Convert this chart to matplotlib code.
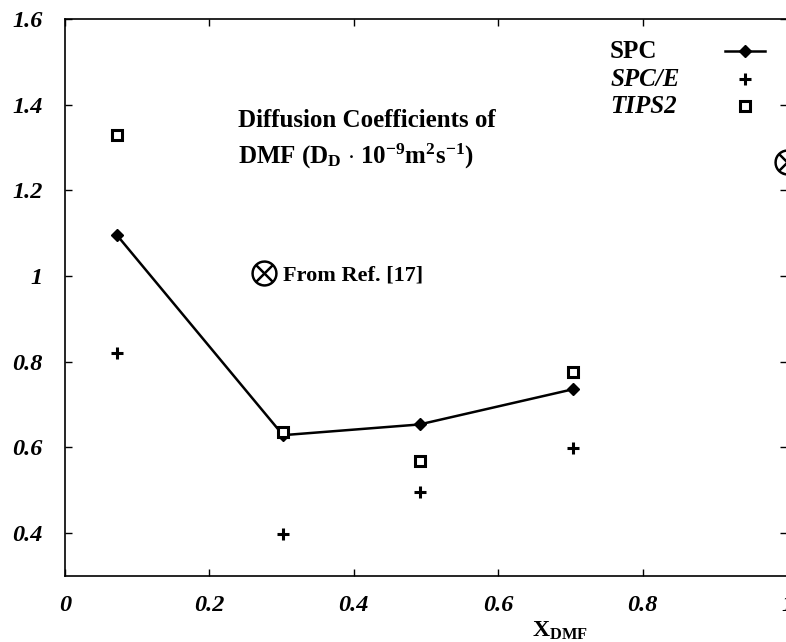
import matplotlib
matplotlib.use("Agg")
import matplotlib.pyplot as plt
from matplotlib.lines import Line2D

# mole fraction of DMF
x_dmf = [0.072, 0.302, 0.491, 0.703]
spc = [1.095, 0.628, 0.653, 0.735]
spce = [0.819, 0.396, 0.495, 0.599]
tips2 = [1.329, 0.636, 0.567, 0.776]
ref_x = [1.0]
ref_y = [1.265]

xticks = [0, 0.2, 0.4, 0.6, 0.8, 1]
yticks = [0.4, 0.6, 0.8, 1, 1.2, 1.4, 1.6]
series_names = ['SPC', 'SPC/E', 'TIPS2']

plt.rcParams['font.family'] = ['Liberation Serif', 'DejaVu Serif']
plt.rcParams['mathtext.fontset'] = 'custom'
plt.rcParams['mathtext.rm'] = 'Liberation Serif:bold'
plt.rcParams['mathtext.bf'] = 'Liberation Serif:bold'
plt.rcParams['mathtext.it'] = 'Liberation Serif:bold:italic'
plt.rcParams['mathtext.default'] = 'bf'

fig = plt.figure(figsize=(7.86, 6.42), dpi=100)
ax = fig.add_axes([65 / 786, (642 - 575.6) / 642, 722 / 786, 556.6 / 642])

h1, = ax.plot(x_dmf, spc, color='black', lw=1.8, marker='D', ms=6.5)
h2, = ax.plot(x_dmf, spce, ls='none', color='black', marker='+', ms=8, mew=2.2)
h3, = ax.plot(x_dmf, tips2, ls='none', marker='s', ms=7, mfc='white', mec='black', mew=2.2)
ax.plot(ref_x, ref_y, ls='none', color='black', marker=r'$\otimes$', ms=18, clip_on=False)

ax.set_xlim(0, 1)
ax.set_ylim(0.3, 1.6)
ax.set_xticks(xticks)
ax.set_yticks(yticks)
ax.set_xticklabels(['%g' % t for t in xticks])
ax.set_yticklabels(['%g' % t for t in yticks])
for lab in ax.get_xticklabels() + ax.get_yticklabels():
    lab.set_fontweight('bold')
    lab.set_fontstyle('italic')
    lab.set_fontsize(17.5)
ax.tick_params(direction='in', length=5, width=1, top=True, right=True)
ax.tick_params(axis='y', pad=16)
ax.tick_params(axis='x', pad=14)
for s in ax.spines.values():
    s.set_linewidth(1.2)

ax.set_xlabel(r'X$_{\mathbf{DMF}}$', fontsize=17, fontweight='bold')
ax.xaxis.set_label_coords(0.686, -0.08)

ax.text(0.24, 0.838, 'Diffusion Coefficients of\n'
        r'DMF (D$_{\mathbf{D}}$ $\cdot$ 10$^{-9}$m$^2$s$^{-1}$)',
        transform=ax.transAxes, fontsize=18, fontweight='bold',
        va='top', ha='left', linespacing=1.45)

# legend keys on the right, names written left-aligned before them
leg = ax.legend([h1, h2, h3], [' ', ' ', ' '], loc='upper right',
                bbox_to_anchor=(0.995, 0.98), frameon=False,
                markerfirst=True, fontsize=18, handlelength=1.6,
                handletextpad=0, labelspacing=0.2, borderpad=0, numpoints=1)
ax.add_artist(leg)
for name, yy, st in zip(series_names, [0.941, 0.891, 0.842], ['normal', 'italic', 'italic']):
    ax.text(0.755, yy, name, transform=ax.transAxes, fontsize=18,
            fontweight='bold', fontstyle=st, va='center', ha='left')

ref_handle = Line2D([], [], ls='none', color='black', marker=r'$\otimes$', ms=18)
leg2 = ax.legend([ref_handle], ['From Ref. [17]'], loc='center left',
                 bbox_to_anchor=(0.245, 0.54), frameon=False, fontsize=16,
                 handlelength=1.0, handletextpad=0.35, borderpad=0)
for t in leg2.get_texts():
    t.set_fontweight('bold')

fig.savefig('out.png', dpi=100)
